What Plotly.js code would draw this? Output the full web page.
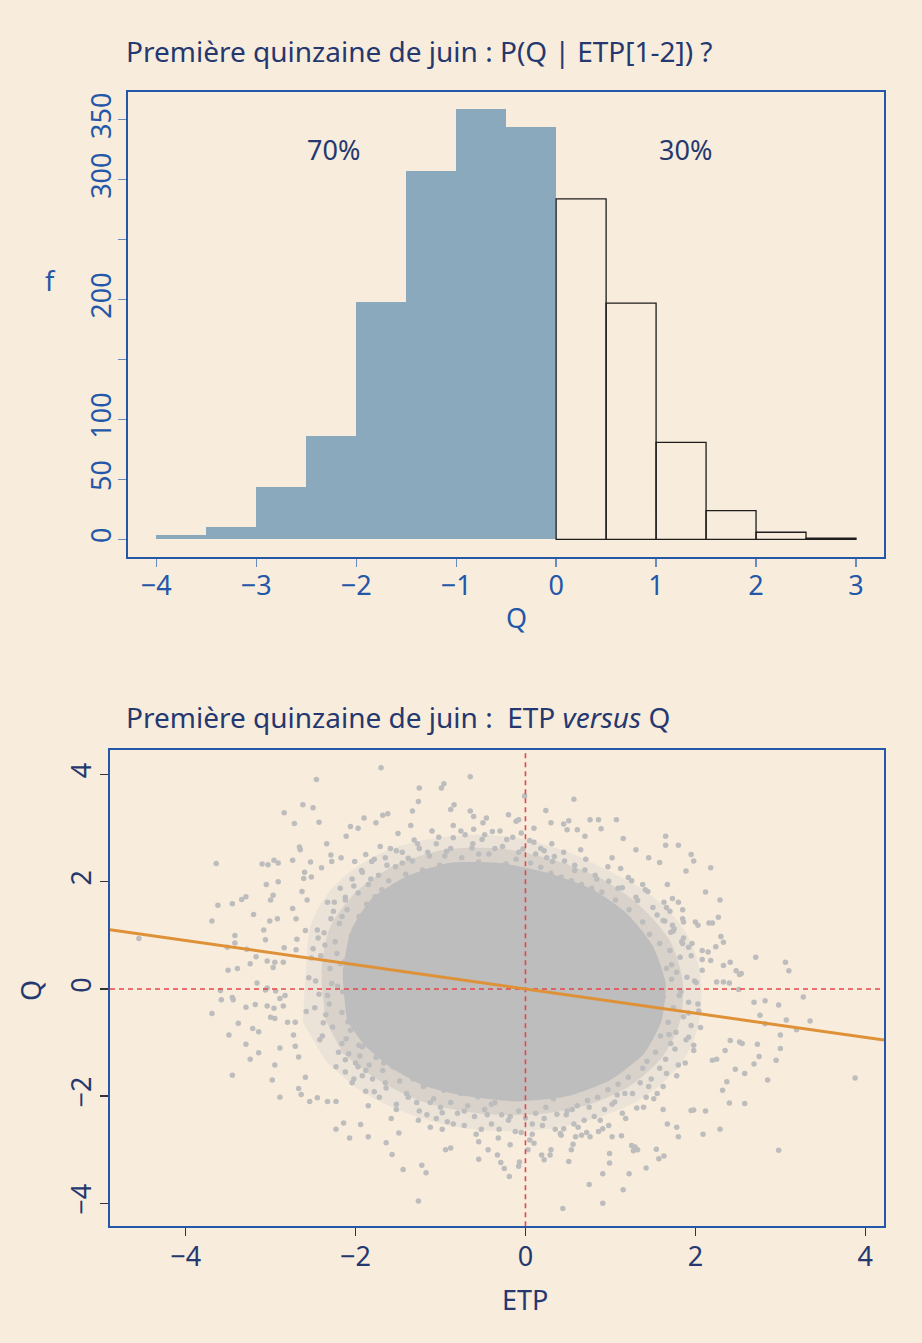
<!DOCTYPE html>
<html>
<head>
<meta charset="utf-8">
<script src="https://cdn.plot.ly/plotly-3.0.1.min.js"></script>
<style>html,body{margin:0;padding:0;background:#f8ecdc;}#chart{width:922px;height:1343px;}</style>
</head>
<body>
<div id="chart"></div>
<script>
// ---------- DATA : histogram ----------
const histBinStart = [-4, -3.5, -3, -2.5, -2, -1.5, -1, -0.5, 0, 0.5, 1, 1.5, 2, 2.5];
const histCount    = [4, 10, 44, 86, 198, 307, 359, 344, 284, 197, 81, 24, 6, 1];
const histBinWidth = 0.5;
const histShareLabels = ["70%", "30%"];
const histShareX = [-2.23, 1.29];
const histShareY = [325, 325];
const histYTickVals = [0, 50, 100, 150, 200, 250, 300, 350];
const histYTickText = ["0", "50", "100", "", "200", "", "300", "350"];
const histXTickVals = [-4, -3, -2, -1, 0, 1, 2, 3];

// ---------- DATA : scatter ETP vs Q ----------
// outline of the lightly covered zone of the cloud
const haloEtp = [-2.62,-2.58,-2.52,-2.25,-1.72,-1.02,-0.3,0.38,0.98,1.5,1.9,2.06,2.04,1.86,1.45,0.92,0.22,-0.6,-1.32,-1.92,-2.36];
const haloQ   = [-0.62,0.42,1.22,1.92,2.52,2.82,2.86,2.62,2.2,1.72,1.02,0.22,-0.62,-1.32,-1.96,-2.36,-2.62,-2.62,-2.36,-1.92,-1.32];
// outline of the mostly covered zone
const innerEtp = [-2.35,-2.4,-2.3,-2.0,-1.55,-0.95,-0.3,0.35,0.9,1.35,1.7,1.85,1.82,1.62,1.22,0.7,0.05,-0.65,-1.25,-1.75,-2.15];
const innerQ   = [-0.6,0.35,1.15,1.8,2.3,2.6,2.62,2.4,2.05,1.55,0.9,0.15,-0.6,-1.25,-1.82,-2.18,-2.35,-2.3,-2.08,-1.68,-1.2];
// outline of the fully covered core of the cloud
const coreEtp = [-2.1,-2.15,-2.05,-1.8,-1.4,-0.9,-0.3,0.3,0.8,1.2,1.5,1.65,1.6,1.4,1.0,0.5,-0.1,-0.7,-1.2,-1.6,-1.9];
const coreQ   = [-0.6,0.3,1.1,1.7,2.1,2.35,2.35,2.15,1.85,1.4,0.8,0.1,-0.6,-1.2,-1.7,-2.0,-2.1,-2.0,-1.8,-1.45,-1.05];

// medium-density points
const midEtp = [
-2.55,-2.48,-2.41,-2.37,-2.33,-2.30,-2.27,-2.24,-2.21,-2.19,-2.16,-2.13,-2.11,-2.08,-2.05,-2.03,-2.01,-1.98,-1.96,-1.94,-1.92,-1.90,-1.88,-1.86,-1.84,-1.82,-1.80,-1.78,-1.76,-1.74,-1.72,-1.70,-1.68,-1.66,-1.64,-1.62,-1.60,-1.58,-1.56,-1.54,-2.44,-2.35,-2.22,-2.15,-2.06,-1.99,-1.91,-1.83,-1.75,-1.69,-1.63,-1.57,-2.29,-2.10,-1.87,-1.95,-1.79,-1.67,-2.39,-2.52,
-2.25,-2.18,-2.12,-2.04,-1.97,-1.93,-1.85,-1.81,-1.77,-1.73,-1.69,-1.65,-1.61,-1.57,-1.53,-1.49,-1.45,-1.41,-1.37,-1.33,-1.29,-1.25,-1.21,-1.17,-1.13,-1.09,-1.05,-1.01,-0.97,-0.93,-0.89,-0.85,-1.44,-1.35,-1.62,-1.88,-1.59,-1.31,-2.01,-1.71,
-0.79,-0.75,-0.71,-0.67,-0.63,-0.59,-0.55,-0.51,-0.47,-0.43,-0.39,-0.35,-0.31,-0.27,-0.23,-0.19,-0.15,-0.11,-0.07,-0.03,0.02,0.06,0.10,0.14,0.18,0.22,0.26,0.30,0.34,0.38,0.42,0.46,0.50,0.54,0.58,0.62,0.66,0.70,0.74,0.78,-0.61,-0.05,0.31,-0.45,0.12,
0.82,0.86,0.90,0.94,0.98,1.02,1.06,1.10,1.14,1.18,1.22,1.26,1.30,1.34,1.38,1.42,1.46,1.50,1.54,1.58,1.62,1.66,1.70,1.74,1.78,1.82,1.86,1.28,1.37,1.45,1.52,1.60,0.95,1.08,1.19,1.41,1.25,1.63,1.12,1.92,
1.38,1.41,1.44,1.47,1.50,1.53,1.56,1.59,1.62,1.65,1.68,1.71,1.74,1.77,1.80,1.83,1.86,1.89,1.92,1.95,1.98,2.01,2.04,1.49,1.58,1.72,1.35,1.43,1.66,1.90,
1.25,1.21,1.17,1.13,1.09,1.05,1.01,0.97,0.93,0.89,0.85,0.81,0.77,0.73,0.69,0.65,0.61,0.57,0.53,0.49,0.45,0.41,0.37,0.33,1.35,1.42,1.48,1.31,1.55,1.62,1.18,0.98,1.38,1.29,0.72,
0.28,0.24,0.20,0.16,0.12,0.08,0.04,0.00,-0.04,-0.08,-0.12,-0.16,-0.20,-0.24,-0.28,-0.32,-0.36,-0.40,-0.44,-0.48,-0.52,-0.56,-0.60,-0.64,-0.68,-0.72,-0.76,-0.80,-0.84,-0.88,-0.92,-0.96,0.10,-0.18,-0.55,
-1.00,-1.04,-1.08,-1.12,-1.16,-1.20,-1.24,-1.28,-1.32,-1.36,-1.40,-1.44,-1.48,-1.52,-1.56,-1.60,-1.64,-1.68,-1.72,-1.76,-1.80,-1.84,-1.88,-1.92,-1.96,-2.00,-2.04,-2.08,-2.12,-2.16,-1.26,-1.58,-1.12,-0.98,-1.85,
-2.58,-2.47,-2.42,-2.36,-2.31,-2.26,-2.20,-2.18,-2.12,-2.09,-2.02,-1.97,-2.50,-2.45,-2.38,-2.28,-2.23,-2.16,-2.43,-2.33,
-1.92,-1.78,-1.63,-1.52,-1.38,-1.27,-1.15,-1.02,-0.88,-0.76,-0.62,-0.48,-0.36,-0.22,-0.08,0.05,-1.82,-1.45,-0.95,-0.55,
0.18,0.32,0.45,0.58,0.71,0.84,0.97,1.09,1.21,1.32,1.44,1.55,1.66,1.75,1.86,0.25,0.65,1.02,1.38,1.70,
1.95,1.99,2.03,2.06,1.98,1.88,1.78,1.72,1.81,1.92,1.85,2.08,1.69,1.76,1.92,
1.62,1.51,1.39,1.26,1.14,1.02,0.88,0.75,0.62,0.48,0.35,0.22,1.45,1.08,0.55,
0.08,-0.05,-0.18,-0.31,-0.45,-0.58,-0.72,-0.85,-0.98,-1.12,-1.25,-1.38,-1.52,-1.65,-1.78,-1.88,-2.02,-2.12,-0.40,-1.05];
const midQ = [
0.21,-0.35,0.62,1.05,-0.12,0.38,-0.71,0.88,0.05,1.22,-0.44,0.51,-0.93,0.27,0.99,-0.22,0.71,-0.58,1.35,0.14,-1.08,0.45,0.92,-0.33,1.17,-0.79,0.63,0.02,1.44,-0.51,0.84,-1.21,0.31,1.06,-0.15,-0.95,1.28,0.55,-0.62,1.52,0.95,-0.48,0.66,-0.05,-0.77,1.08,-0.11,0.38,-0.27,0.68,0.18,-0.34,1.31,1.48,1.58,-1.25,-1.02,-1.38,-0.88,0.58,
1.62,1.88,1.71,2.05,1.79,2.21,1.95,2.38,1.72,2.12,1.85,2.45,2.02,1.68,2.28,1.91,2.55,2.14,1.83,2.39,2.05,2.62,2.22,1.98,2.48,2.17,2.71,2.31,2.08,2.57,2.26,2.82,1.62,1.55,1.49,2.51,2.62,2.78,2.38,2.66,
2.12,2.45,2.88,2.21,2.63,2.05,2.37,2.79,2.15,2.52,2.94,2.28,2.06,2.66,2.33,2.11,2.83,2.42,2.18,2.61,2.02,2.35,2.74,1.96,2.27,2.58,1.89,2.16,2.47,1.82,2.09,2.39,1.75,2.02,2.31,1.68,1.95,2.22,1.61,1.88,2.98,2.91,2.71,2.05,2.52,
2.12,1.55,1.81,1.42,2.01,1.28,1.66,1.15,1.89,1.02,1.48,0.88,1.71,0.74,1.25,0.61,1.02,1.52,0.47,0.85,1.28,0.38,0.72,1.08,0.31,0.59,0.95,0.42,0.33,0.19,0.12,0.05,1.05,0.85,0.62,1.85,2.02,1.62,2.25,0.78,
-0.12,-0.55,-0.95,-0.28,-0.71,-1.18,-0.42,-0.88,-0.15,-1.31,-0.62,-1.02,-0.35,-0.81,-1.42,-0.05,-0.52,-0.95,-0.25,-0.68,-1.15,0.12,-0.41,0.02,-1.48,0.18,-1.05,-1.35,-1.58,0.22,
-1.32,-1.65,-1.95,-1.42,-1.78,-2.11,-1.55,-1.88,-2.25,-1.66,-2.02,-2.38,-1.74,-2.08,-2.45,-1.85,-2.18,-2.52,-1.92,-2.28,-2.61,-1.98,-2.34,-2.05,-1.75,-2.02,-1.68,-2.22,-1.95,-2.25,-2.42,-2.55,-1.48,-1.12,-2.68,
-1.88,-2.21,-2.55,-1.95,-2.32,-2.71,-2.02,-2.41,-1.92,-2.28,-2.66,-2.05,-2.45,-1.98,-2.35,-2.78,-2.12,-2.52,-1.91,-2.25,-2.62,-2.01,-2.38,-1.86,-2.18,-2.55,-1.95,-2.32,-1.82,-2.12,-2.48,-1.89,-2.88,-2.91,-2.85,
-2.21,-1.75,-2.05,-1.58,-2.35,-1.82,-1.52,-2.12,-1.68,-1.35,-1.95,-1.18,-1.72,-2.25,-1.45,-1.08,-1.85,-1.52,-2.02,-1.28,-1.68,-1.42,-1.91,-1.62,-1.05,-1.38,-1.75,-1.21,-1.55,-1.02,-2.45,-2.42,-2.58,-2.62,-2.18,
-0.42,0.15,-0.95,0.82,-0.28,1.45,-1.18,0.47,1.66,-0.61,1.92,-1.45,0.75,1.10,-0.63,0.10,-1.45,1.35,-0.10,1.62,
2.18,2.42,2.31,2.58,2.44,2.71,2.55,2.83,2.62,2.95,2.71,2.88,2.62,2.79,2.55,2.77,2.05,2.35,2.48,2.52,
2.62,2.38,2.55,2.21,2.42,2.05,2.28,1.88,2.08,1.65,1.82,1.38,1.52,1.12,1.25,2.45,2.60,2.45,1.95,1.45,
0.62,0.15,-0.28,-0.72,-1.05,-1.38,-1.62,0.45,-0.12,-0.45,0.85,0.35,-0.85,-1.12,-0.90,
-1.82,-2.05,-2.21,-1.95,-2.32,-2.15,-2.45,-2.21,-2.58,-2.35,-2.62,-2.42,-1.82,-1.98,-2.25,
-2.52,-2.68,-2.38,-2.62,-2.35,-2.71,-2.28,-2.52,-2.31,-2.12,-2.28,-2.02,-2.15,-1.75,-1.92,-1.52,-1.68,-1.32,-2.15,-2.42];

// sparse outer points, read one by one
const outEtp = [
-4.55,-3.64,-3.62,-3.69,-3.51,-3.50,-3.42,-3.42,-3.39,-3.45,-3.34,-3.29,-3.20,-3.10,-3.03,-2.96,-2.91,-3.05,-2.97,-3.00,-3.08,-3.06,-3.01,-2.92,-2.91,-3.28,-3.17,-3.24,-3.16,-3.59,-3.58,-3.45,-3.44,-3.69,-3.29,-3.38,-3.49,-3.18,-3.21,-3.14,-3.29,-3.24,-3.14,-3.45,-2.98,-2.95,-2.89,-3.04,-2.96,-3.00,-2.95,-2.85,-2.89,-2.83,-3.06,-2.94,-3.04,-3.04,-2.95,-2.97,-2.84,-2.85,-2.89,-2.80,-2.71,-2.73,-2.71,-2.67,-2.59,-2.67,-2.64,-2.54,-2.45,-2.33,-2.23,
-2.84,-2.72,-2.62,-2.50,-2.46,-2.43,-2.66,-2.65,-2.74,-2.53,-2.61,-2.60,-2.52,-2.63,-2.57,-2.74,-2.70,-2.69,-2.59,-2.70,-2.34,-2.40,-2.29,-2.17,-2.28,-2.11,-2.06,-1.97,-1.90,-1.76,-1.68,-1.62,-1.70,
-1.44,-1.22,-1.17,-1.26,-2.23,-2.14,-2.07,-1.94,-1.85,-1.64,-1.57,-1.49,-0.94,-0.88,-0.55,-0.44,-0.33,-0.29,-0.25,-0.19,-0.08,-0.07,
-0.96,-0.99,-0.65,-1.25,-1.26,-1.33,-0.88,-0.84,-0.65,-0.61,-0.46,-0.11,-0.08,-0.01,
-1.50,-1.35,-1.10,-0.85,-0.50,-0.30,-0.20,0.10,0.30,0.70,1.30,1.45,
0.57,0.24,0.45,0.51,0.49,0.61,0.76,0.86,0.89,1.07,1.15,1.65,1.65,1.80,1.58,1.95,1.98,2.18,1.89,1.67,2.12,2.29,2.27,2.16,2.20,2.00,2.03,1.73,1.80,1.85,1.85,1.64,1.73,1.71,1.84,1.96,2.08,2.15,2.18,2.08,2.24,2.33,2.30,2.33,2.25,2.33,2.40,2.52,2.54,2.41,2.48,2.71,3.06,3.10,
2.51,2.69,2.82,2.98,2.76,2.82,3.27,3.35,3.07,3.19,3.00,3.00,2.95,2.73,2.75,2.69,2.85,3.88,2.98,2.58,2.58,2.47,2.40,2.37,2.32,2.52,2.55,2.41,2.35,2.25,2.20,2.29,2.09,2.12,1.98,1.95,1.78,1.80,1.67,1.54,1.57,1.63,1.42,1.22,1.15,0.91,0.99,0.99,0.75,0.91,0.44,0.51,0.54,0.56,0.19,0.22,0.29,0.30,0.03,0.05,1.25,1.29,1.32,1.27,1.13,1.02,0.76,0.66,0.59,0.41,0.42,0.91,0.86];
const outQ = [
0.94,2.34,1.56,1.27,0.78,0.35,1.00,0.86,0.38,1.59,1.67,1.72,1.39,2.33,2.32,2.40,2.35,1.95,1.75,1.66,1.10,0.92,1.27,1.31,2.00,0.74,0.60,0.47,0.11,-0.03,-0.20,-0.16,-0.20,-0.46,-0.34,-0.64,-0.86,-0.29,-0.74,-0.80,-1.03,-1.31,-1.19,-1.61,-1.70,-1.42,-2.02,-0.32,-0.36,-0.53,-0.55,-0.32,-0.18,-0.12,-0.02,-0.04,0.02,0.52,0.50,0.40,0.77,0.50,-1.10,-0.62,-0.62,-0.86,-1.07,-1.27,-1.65,-1.86,-1.97,-2.10,-2.03,-2.10,-2.10,
3.29,3.09,3.44,3.38,3.91,3.11,2.65,2.60,2.40,2.37,2.06,2.18,2.09,1.82,1.66,1.50,1.31,0.93,1.09,0.73,2.71,2.26,2.50,2.45,2.38,2.85,3.03,3.00,3.19,3.10,3.24,3.27,4.13,
-3.37,-3.29,-3.43,-3.96,-2.62,-2.50,-2.78,-2.53,-2.76,-2.87,-3.09,-2.69,-3.00,-2.97,-3.18,-3.00,-3.10,-3.24,-3.35,-3.50,-3.31,-3.23,
3.83,3.75,3.96,3.75,3.50,3.32,3.35,3.44,3.32,3.22,3.19,3.13,3.16,3.60,
2.90,3.05,2.95,3.05,3.10,2.95,3.25,3.00,3.10,2.85,2.60,2.45,
3.54,3.33,3.08,3.14,2.97,2.97,3.16,3.16,2.99,3.16,2.81,2.85,2.68,2.68,2.36,2.51,2.39,2.26,2.20,1.95,1.81,1.66,1.34,1.23,1.23,1.25,1.19,1.69,1.62,1.48,1.31,1.27,1.19,1.06,0.88,0.85,0.72,0.69,0.53,0.55,0.79,0.87,0.98,0.44,0.13,0.13,0.11,0.27,0.29,0.50,0.34,0.59,0.50,0.34,
-0.01,-0.25,-0.22,-0.30,-0.49,-0.65,-0.15,-0.60,-0.58,-0.76,-0.86,-1.11,-1.33,-1.03,-1.26,-1.40,-1.70,-1.66,-3.01,-2.14,-1.58,-1.50,-2.13,-1.73,-1.89,-0.99,-1.02,-0.96,-1.15,-1.31,-1.33,-2.62,-2.71,-2.28,-2.26,-2.27,-2.58,-2.76,-2.52,-2.99,-3.17,-3.12,-3.34,-3.45,-3.75,-3.45,-3.25,-3.07,-3.65,-4.00,-4.10,-3.22,-3.00,-2.90,-3.10,-3.19,-3.10,-3.00,-3.00,-2.82,-2.92,-2.95,-3.00,-3.02,-2.74,-2.76,-2.76,-2.73,-2.76,-2.70,-2.73,-2.61,-2.66];

// linear regression of Q on ETP
const regIntercept = 0.0;
const regSlope = -0.226;
const refEtp = 0, refQ = 0;
const scatTicks = [-4, -2, 0, 2, 4];

// ---------- LAYOUT helpers ----------
const W = 922, H = 1343;
const fx = p => p / W;
const fy = p => 1 - p / H;
const FONT = "Noto Sans, Open Sans, sans-serif";
const NAVY = "#25386f", BLUE = "#2457a7", BG = "#f8ecdc", GREY = "#bdbdbd";

const x1Range = [-4.28, 3.28], y1Range = [-14.4, 373.4];
const x2Range = [-4.89, 4.22], y2Range = [-4.43, 4.46];

const neg = histBinStart.map(b => b < 0);
const zone = (xs, ys, col, sm) => ({ type: "scatter", mode: "lines", xaxis: "x2", yaxis: "y2",
  x: xs, y: ys, fill: "toself", fillcolor: col,
  line: { width: 0, shape: "spline", smoothing: sm }, hoverinfo: "skip" });
const traces = [
  { type: "bar", xaxis: "x", yaxis: "y",
    x: histBinStart.filter((b, i) => neg[i]), y: histCount.filter((c, i) => neg[i]),
    width: histBinWidth, offset: 0,
    marker: { color: "#8ba9bc", line: { width: 0 } }, hoverinfo: "skip" },
  { type: "bar", xaxis: "x", yaxis: "y",
    x: histBinStart.filter((b, i) => !neg[i]), y: histCount.filter((c, i) => !neg[i]),
    width: histBinWidth, offset: 0,
    marker: { color: "rgba(0,0,0,0)", line: { width: 1.3, color: "#1e1e1e" } }, hoverinfo: "skip" },
  zone(haloEtp, haloQ, "#ebe3d8", 1),
  zone(innerEtp, innerQ, "#d8d2ca", 0.8),
  zone(coreEtp, coreQ, GREY, 0.6),
  { type: "scatter", mode: "markers", xaxis: "x2", yaxis: "y2",
    x: midEtp, y: midQ, marker: { color: GREY, size: 5.5 }, hoverinfo: "skip" },
  { type: "scatter", mode: "markers", xaxis: "x2", yaxis: "y2",
    x: outEtp, y: outQ, marker: { color: GREY, size: 5.5 }, hoverinfo: "skip" },
  { type: "scatter", mode: "lines", xaxis: "x2", yaxis: "y2",
    x: [refEtp, refEtp], y: y2Range, line: { color: "#e5454b", width: 1.6, dash: "5px,4px" }, hoverinfo: "skip" },
  { type: "scatter", mode: "lines", xaxis: "x2", yaxis: "y2",
    x: x2Range, y: [refQ, refQ], line: { color: "#e5454b", width: 1.6, dash: "5px,4px" }, hoverinfo: "skip" },
  { type: "scatter", mode: "lines", xaxis: "x2", yaxis: "y2",
    x: x2Range, y: x2Range.map(v => regIntercept + regSlope * v),
    line: { color: "#df9138", width: 3 }, hoverinfo: "skip" }
];

const axBase = {
  showline: true, mirror: true, linewidth: 2, linecolor: BLUE,
  ticks: "outside", ticklen: 8, tickwidth: 1.3,
  showgrid: false, zeroline: false, fixedrange: true
};

const ann = (x, y, text, size, color, angle) => ({
  xref: "paper", yref: "paper", x: fx(x), y: fy(y), xanchor: "center", yanchor: "middle",
  showarrow: false, text: text, textangle: angle || 0, font: { size: size, color: color, family: FONT }
});

const layout = {
  width: W, height: H, margin: { l: 0, r: 0, t: 0, b: 0 },
  paper_bgcolor: BG, plot_bgcolor: BG, showlegend: false,
  font: { family: FONT, color: NAVY },
  bargap: 0,
  xaxis: Object.assign({}, axBase, {
    domain: [fx(128.3), fx(884)], range: x1Range, anchor: "y",
    tickvals: histXTickVals, tickcolor: "#6a8bbf",
    tickfont: { size: 27, color: BLUE, family: FONT }, ticklabelstandoff: -4 }),
  yaxis: Object.assign({}, axBase, {
    domain: [fy(556.7), fy(91.7)], range: y1Range, anchor: "x",
    tickvals: histYTickVals, ticktext: histYTickText, tickangle: -90, tickcolor: "#6a8bbf",
    tickfont: { size: 27, color: BLUE, family: FONT }, ticklabelstandoff: -3 }),
  xaxis2: Object.assign({}, axBase, {
    domain: [fx(110), fx(884)], range: x2Range, anchor: "y2",
    tickvals: scatTicks, tickcolor: "#333333",
    tickfont: { size: 27, color: NAVY, family: FONT }, ticklabelstandoff: -3 }),
  yaxis2: Object.assign({}, axBase, {
    domain: [fy(1226.3), fy(750)], range: y2Range, anchor: "x2",
    tickvals: scatTicks, tickangle: -90, tickcolor: "#333333",
    tickfont: { size: 27, color: NAVY, family: FONT }, ticklabelstandoff: -2 }),
  annotations: [
    Object.assign(ann(124, 51, "Première quinzaine de juin : P(Q | ETP[1-2]) ?", 28, NAVY), { xanchor: "left" }),
    Object.assign(ann(124, 717, "Première quinzaine de juin :\u00a0 ETP <i>versus</i> Q", 28, NAVY), { xanchor: "left" }),
    { xref: "x", yref: "y", x: histShareX[0], y: histShareY[0], showarrow: false, text: histShareLabels[0],
      xanchor: "center", yanchor: "middle", font: { size: 27, color: NAVY, family: FONT } },
    { xref: "x", yref: "y", x: histShareX[1], y: histShareY[1], showarrow: false, text: histShareLabels[1],
      xanchor: "center", yanchor: "middle", font: { size: 27, color: NAVY, family: FONT } },
    ann(516, 617, "Q", 27, BLUE),
    ann(50, 280, "f", 27, BLUE),
    ann(525, 1299, "ETP", 27, NAVY),
    ann(30, 990, "Q", 27, NAVY, -90)
  ]
};

Plotly.newPlot("chart", traces, layout, { staticPlot: true, displayModeBar: false });
</script>
</body>
</html>
